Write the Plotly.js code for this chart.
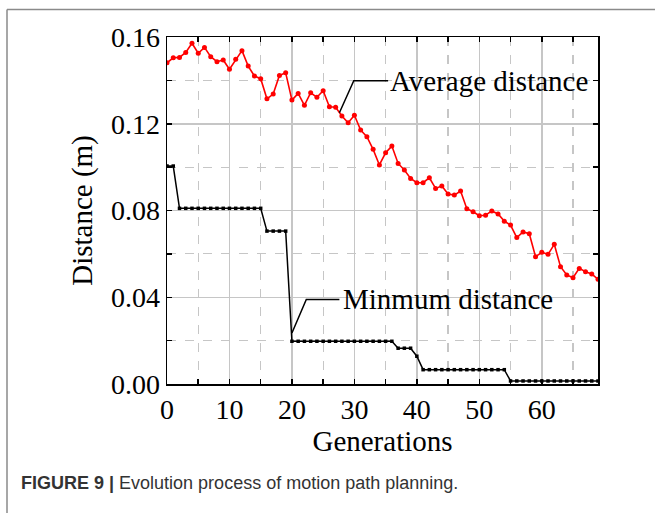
<!DOCTYPE html>
<html>
<head>
<meta charset="utf-8">
<script src="https://cdn.plot.ly/plotly-3.0.1.min.js"></script>
<style>
html,body{margin:0;padding:0;background:#fff;}
#chart{width:655px;height:513px;}
</style>
</head>
<body>
<div id="chart"></div>
<script>
// ---- data ----
const generations = Array.from({length: 70}, (_, i) => i);
const averageDistance = [
  0.1481, 0.1504, 0.1506, 0.1529, 0.1571, 0.1525, 0.1552, 0.1509, 0.1486, 0.1494,
  0.1451, 0.1497, 0.1537, 0.1466, 0.1420, 0.1408, 0.1315, 0.1337, 0.1423, 0.1435,
  0.1309, 0.1340, 0.1285, 0.1343, 0.1322, 0.1352, 0.1278, 0.1276, 0.1236, 0.1205,
  0.1239, 0.1171, 0.1140, 0.1082, 0.1010, 0.1066, 0.1097, 0.1017, 0.0987, 0.0948,
  0.0928, 0.0928, 0.0951, 0.0902, 0.0913, 0.0876, 0.0871, 0.0890, 0.0808, 0.0794,
  0.0776, 0.0778, 0.0798, 0.0784, 0.0751, 0.0733, 0.0675, 0.0701, 0.0693, 0.0587,
  0.0607, 0.0598, 0.0644, 0.0541, 0.0503, 0.0490, 0.0533, 0.0518, 0.0507, 0.0483
];
const minimumDistance = [
  0.1005, 0.1005,
  0.0810, 0.0810, 0.0810, 0.0810, 0.0810, 0.0810, 0.0810, 0.0810, 0.0810, 0.0810, 0.0810, 0.0810, 0.0810, 0.0810,
  0.0705, 0.0705, 0.0705, 0.0705,
  0.0197, 0.0197, 0.0197, 0.0197, 0.0197, 0.0197, 0.0197, 0.0197, 0.0197, 0.0197,
  0.0197, 0.0197, 0.0197, 0.0197, 0.0197, 0.0197, 0.0197,
  0.0165, 0.0165, 0.0165,
  0.0128,
  0.0066, 0.0066, 0.0066, 0.0066, 0.0066, 0.0066, 0.0066, 0.0066, 0.0066, 0.0066, 0.0066, 0.0066, 0.0066, 0.0066,
  0.0014, 0.0014, 0.0014, 0.0014, 0.0014, 0.0014, 0.0014, 0.0014, 0.0014, 0.0014, 0.0014, 0.0014, 0.0014, 0.0014, 0.0014
];
const xTitle = 'Generations';
const yTitle = 'Distance (m)';
const avgLabel = 'Average distance';
const minLabel = 'Minmum distance';
const caption = '<b>FIGURE 9 |</b> Evolution process of motion path planning.';

// ---- layout helpers ----
const W = 655, H = 513;
const M = {l: 167, r: 57, t: 37, b: 129};
const PW = W - M.l - M.r, PH = H - M.t - M.b;
const px = x => (x - M.l) / PW;
const py = y => (H - M.b - y) / PH;

const serif = 'Liberation Serif, Times New Roman, serif';
const gridCol = '#c6c6c6';

const traces = [
  {
    x: generations, y: averageDistance, type: 'scatter', mode: 'lines+markers',
    line: {color: '#ff0000', width: 1.6},
    marker: {color: '#ff0000', size: 5, symbol: 'circle'},
    name: avgLabel, hoverinfo: 'skip'
  },
  {
    x: generations, y: minimumDistance, type: 'scatter', mode: 'lines+markers',
    line: {color: '#000000', width: 1.5},
    marker: {color: '#000000', size: 3.5, symbol: 'square'},
    name: minLabel, hoverinfo: 'skip'
  }
];

const axisCommon = {
  showline: true, linecolor: '#000', linewidth: 1.5, mirror: 'allticks',
  ticks: 'inside', ticklen: 5, tickwidth: 1.5, tickcolor: '#000',
  showgrid: true, gridcolor: gridCol, gridwidth: 1.5, zeroline: false,
  tickfont: {family: serif, size: 28, color: '#000'},
  minor: {ticks: 'inside', ticklen: 5, tickwidth: 1.5, tickcolor: '#000',
          showgrid: true, gridcolor: gridCol, gridwidth: 1.2, griddash: 'dash'}
};

const layout = {
  width: W, height: H,
  margin: M,
  paper_bgcolor: '#fff', plot_bgcolor: '#fff',
  showlegend: false,
  xaxis: Object.assign({}, axisCommon, {
    range: [0, 69], tick0: 0, dtick: 10,
    minor: Object.assign({}, axisCommon.minor, {dtick: 5}),
    title: {text: xTitle, font: {family: serif, size: 29, color: '#000'}, standoff: 5}
  }),
  yaxis: Object.assign({}, axisCommon, {
    range: [0, 0.16], tick0: 0, dtick: 0.04, tickformat: '.2f',
    minor: Object.assign({}, axisCommon.minor, {dtick: 0.02}),
    title: {text: yTitle, font: {family: serif, size: 29, color: '#000'}, standoff: 10}
  }),
  shapes: [
    // figure frame
    {type: 'line', xref: 'paper', yref: 'paper', x0: px(7), x1: px(7), y0: py(H + 2), y1: py(9.5),
     line: {color: '#8a8a8a', width: 1.5}},
    {type: 'line', xref: 'paper', yref: 'paper', x0: px(7), x1: px(W + 2), y0: py(9.5), y1: py(9.5),
     line: {color: '#8a8a8a', width: 1.5}},
    // leader lines
    {type: 'path', xref: 'x', yref: 'y', path: 'M 27.6 0.1251 L 29.9 0.1398 L 35.4 0.1398',
     line: {color: '#000', width: 1.5}},
    {type: 'path', xref: 'x', yref: 'y', path: 'M 20.0 0.0235 L 22.3 0.0390 L 27.6 0.0390',
     line: {color: '#000', width: 1.5}}
  ],
  annotations: [
    {xref: 'x', yref: 'y', x: 35.4, y: 0.1398, text: avgLabel, showarrow: false,
     xanchor: 'left', yanchor: 'middle', font: {family: serif, size: 29, color: '#000'}},
    {xref: 'x', yref: 'y', x: 27.8, y: 0.0392, text: minLabel, showarrow: false,
     xanchor: 'left', yanchor: 'middle', font: {family: serif, size: 29, color: '#000'}},
    {xref: 'paper', yref: 'paper', x: px(19), y: py(483), text: caption, showarrow: false,
     xanchor: 'left', yanchor: 'middle', font: {family: 'Liberation Sans, Arial, sans-serif', size: 18, color: '#333'}}
  ]
};

Plotly.newPlot('chart', traces, layout, {displayModeBar: false, staticPlot: true});
</script>
</body>
</html>
